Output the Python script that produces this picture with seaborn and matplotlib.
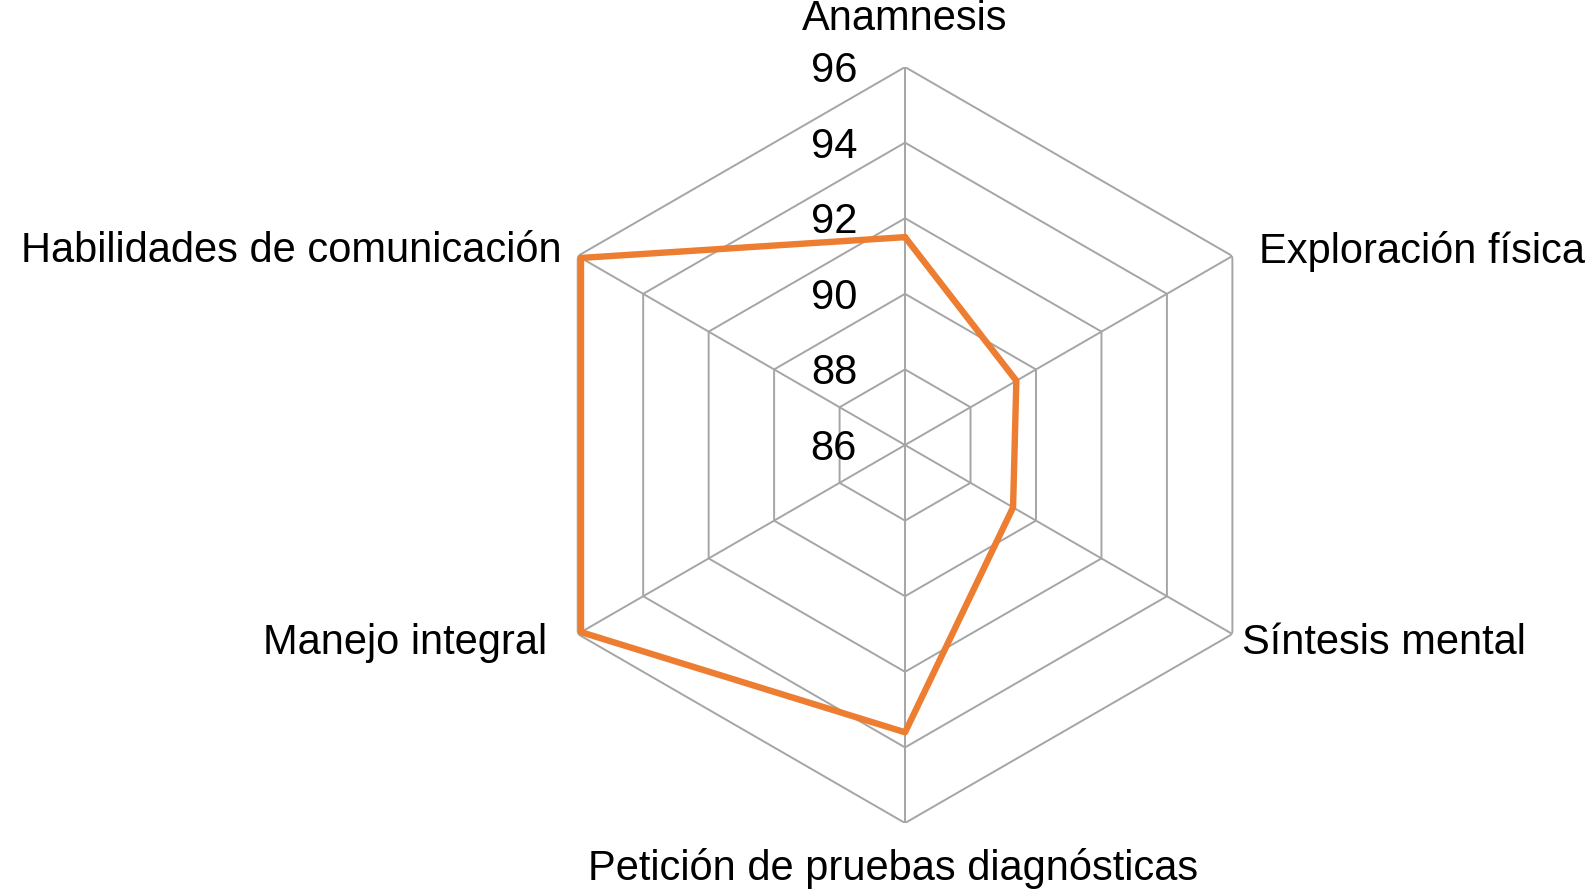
import numpy as np
import pandas as pd
import matplotlib
matplotlib.use("Agg")
import matplotlib.pyplot as plt
import seaborn as sns

# data
categories = ["Anamnesis", "Exploración física", "Síntesis mental",
              "Petición de pruebas diagnósticas", "Manejo integral",
              "Habilidades de comunicación"]
scores = [91.5, 89.4, 89.3, 93.6, 95.9, 95.9]
ticks = [86, 88, 90, 92, 94, 96]
tick_labels = ["86", "88", "90", "92", "94", "96"]

ORANGE = "#ED7D31"
GRID = "#A5A5A5"

sns.set_theme(style="white")
plt.rcParams["font.family"] = ["Liberation Sans", "DejaVu Sans"]

fig = plt.figure(figsize=(15.86, 8.94), dpi=100)
ax = fig.add_axes([0.3323, 0.0794, 0.4767, 0.8456], projection="polar")
ax.set_theta_offset(np.pi / 2)
ax.set_theta_direction(-1)
ax.set_ylim(ticks[0], ticks[-1])
ax.grid(False)
ax.set_xticks([])
ax.set_yticks([])
ax.spines["polar"].set_visible(False)
ax.set_facecolor("white")

n = len(categories)
angles = np.linspace(0, 2 * np.pi, n, endpoint=False)
closed = np.append(angles, angles[0])

# hexagonal grid rings and spokes
for t in ticks[1:]:
    ax.plot(closed, [t] * (n + 1), color=GRID, lw=1.4, zorder=1)
for a in angles:
    ax.plot([a, a], [ticks[0], ticks[-1]], color=GRID, lw=1.4, zorder=1)

df = pd.DataFrame({"theta": closed, "score": scores + [scores[0]]})
sns.lineplot(data=df, x="theta", y="score", ax=ax, sort=False, estimator=None,
             color=ORANGE, lw=4.6, zorder=3)
ax.set_xlabel("")
ax.set_ylabel("")

# radial tick labels along the top spoke
for t, lab in zip(ticks, tick_labels):
    ax.annotate(lab, xy=(0, t), xytext=(-48, -4), textcoords="offset pixels",
                ha="right", va="center", fontsize=30, color="black",
                annotation_clip=False)

# category labels
offsets = [((0, 48), "center"), ((27, 5), "left"), ((10, -9), "left"),
           ((-12, -45), "center"), ((-31, -9), "right"), ((-16, 5), "right")]
for a, lab, (off, ha) in zip(angles, categories, offsets):
    ax.annotate(lab, xy=(a, ticks[-1]), xytext=off, textcoords="offset pixels",
                ha=ha, va="center", fontsize=30, color="black",
                annotation_clip=False)

fig.savefig("out.png", dpi=100, facecolor="white")
